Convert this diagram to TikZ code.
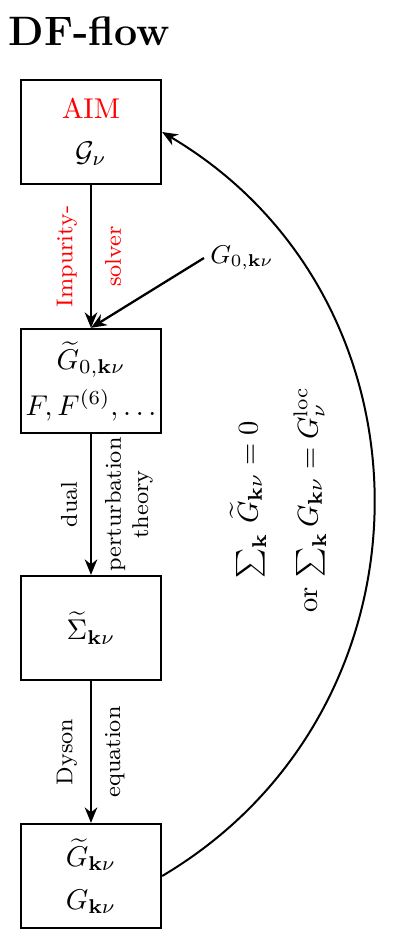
\documentclass[tikz,border=0pt]{standalone}
\usepackage{amsmath}
\usetikzlibrary{arrows.meta}
\begin{document}
\begin{tikzpicture}[x=0.35pt, y=-0.35pt,
  box/.style={draw, line width=0.8pt, minimum width=49pt, minimum height=36.4pt, inner sep=0pt, align=center, font=\normalsize},
  tip/.style={-{Stealth[length=5.4pt, width=4.4pt, inset=1.7pt]}},
  flow/.style={line width=0.8pt, tip},
  lbl/.style={font=\footnotesize, rotate=90, inner sep=4.5pt, align=center},
]
\useasboundingbox (0,0) rectangle (415,938);
\node[anchor=base west, inner sep=0pt, font=\Large\bfseries] (title) at (8,45) {DF-flow};
\node[box] (aim) at (91,132) {\textcolor{red}{AIM}\\[3pt] $\mathcal{G}_\nu$};
\node[box] (dual) at (91,381) {$\widetilde{G}_{0,\mathbf{k}\nu}$\\[4pt] $F, F^{(6)}, \ldots$};
\node[box] (sigma) at (91,628) {$\widetilde{\Sigma}_{\mathbf{k}\nu}$};
\node[box] (green) at (91,876) {$\widetilde{G}_{\mathbf{k}\nu}$\\[3pt] $G_{\mathbf{k}\nu}$};
\node[font=\small, inner sep=2pt] (g0) at (242,258) {$G_{0,\mathbf{k}\nu}$};
\node[rotate=90, align=center, font=\normalsize] (cond) at (278,500)
  {$\sum_{\mathbf{k}}\, \widetilde{G}_{\mathbf{k}\nu} = 0$\\[9pt] or $\sum_{\mathbf{k}} G_{\mathbf{k}\nu} = G^{\mathrm{loc}}_\nu$};
\draw[flow] (aim) -- node[lbl, anchor=south, text=red] {Impurity-} node[lbl, anchor=north, text=red] {solver} (dual);
\draw[flow] (g0.west) -- (dual.north);
\draw[flow] (dual) -- node[lbl, anchor=south] {dual} node[lbl, anchor=north] {perturbation\\theory} (sigma);
\draw[flow] (sigma) -- node[lbl, anchor=south] {Dyson} node[lbl, anchor=north] {equation} (green);
\draw[line width=0.7pt, tip] (green.east) .. controls +(282,-167) and +(282,167) .. (aim.east);
\end{tikzpicture}
\end{document}
